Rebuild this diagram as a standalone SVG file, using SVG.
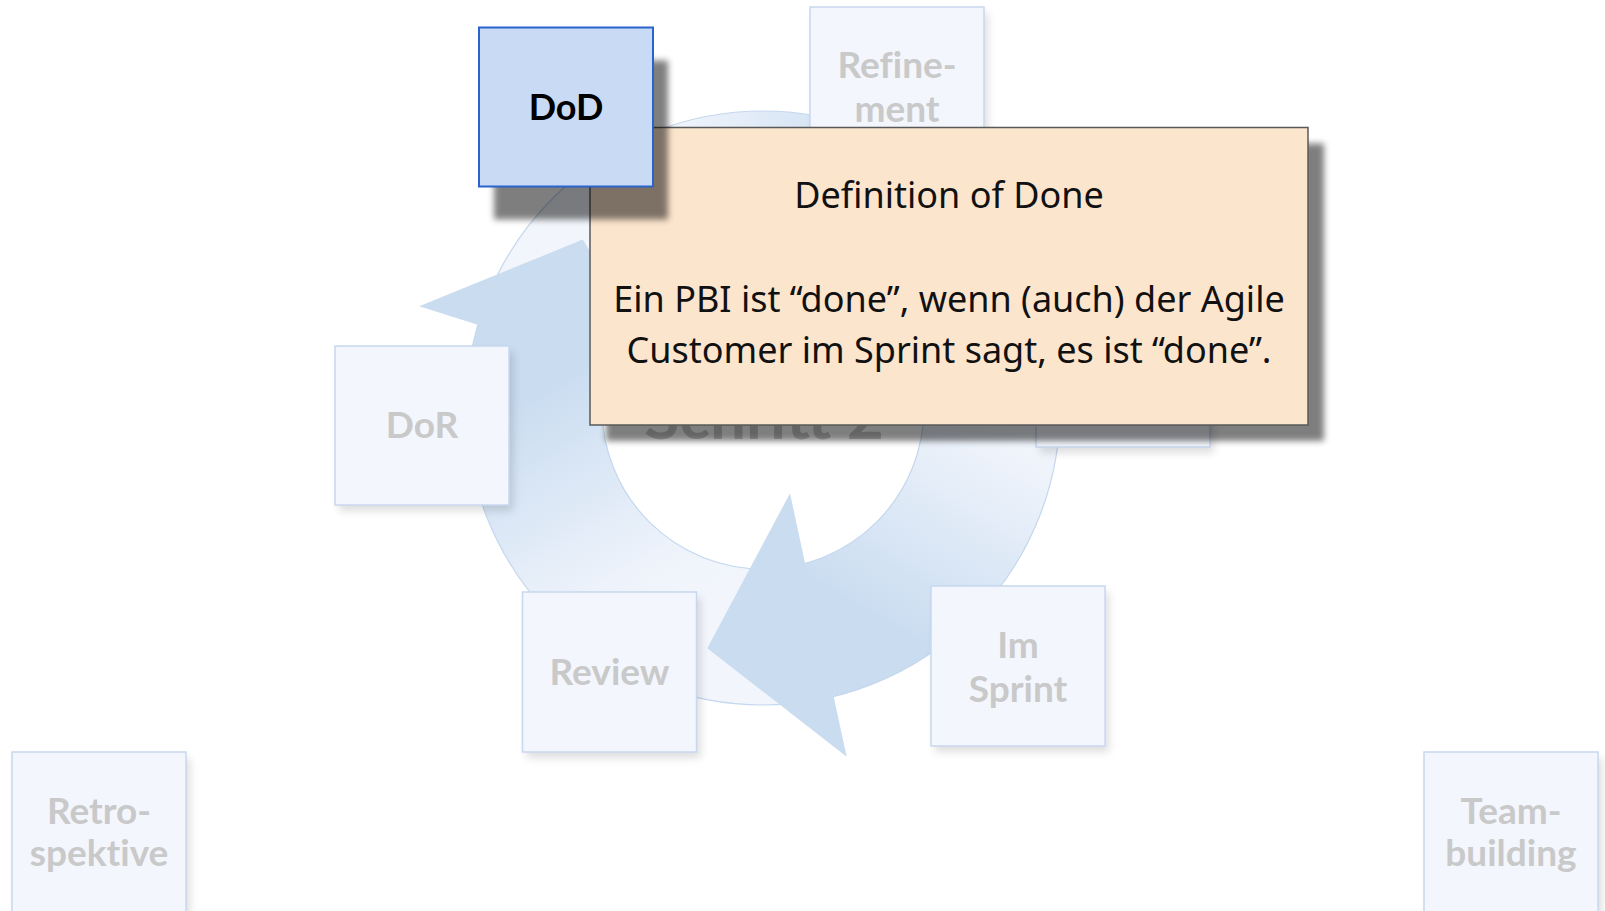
<svg xmlns="http://www.w3.org/2000/svg" xmlns:xlink="http://www.w3.org/1999/xlink" width="1605" height="911" viewBox="0 0 1605 911">
  <style>
    .fbox { fill: #F3F6FD; stroke: #C8D8F0; stroke-width: 1.5; }
    .fsh { fill: #000; opacity: 0.13; }
    .ftxt { font-family: Lato, "Noto Sans", sans-serif; font-weight: 700; font-size: 37px; fill: #C9C9C9; text-anchor: middle; font-variant-ligatures: none; }
    .tip { font-family: "Noto Sans", Lato, sans-serif; font-size: 36px; fill: #111; text-anchor: middle; }
    .ringline { fill: none; stroke: #C4D7EE; stroke-width: 1.2; }
    .head { fill: #C9DCF0; }
  </style>
  <defs>
    <filter id="blur3" x="-20%" y="-20%" width="140%" height="140%">
      <feGaussianBlur stdDeviation="3"/>
    </filter>
    <filter id="blur4" x="-20%" y="-20%" width="140%" height="140%">
      <feGaussianBlur stdDeviation="4"/>
    </filter>
    <linearGradient id="bodyGrad" gradientUnits="userSpaceOnUse" x1="991" y1="388" x2="860" y2="615.5">
      <stop offset="0" stop-color="#F2F6FC"/>
      <stop offset="0.2" stop-color="#EEF3FB"/>
      <stop offset="1" stop-color="#C9DCF0"/>
    </linearGradient>
    <path id="body" d="M882.6,300.3 A161,161 0 0 1 795.1,565.8 L822.2,699.0 A297,297 0 0 0 983.7,209.3 Z" fill="url(#bodyGrad)"/>
    <polygon id="arrowHead" class="head" points="707.3,648.3 790,493.3 805,562.7 834,698.3 846.7,756.7"/>
  </defs>

  <rect width="1605" height="911" fill="#FFFFFF"/>

  <!-- cycle arrows (background) -->
  <g id="connectors">
    <use xlink:href="#body"/>
    <use xlink:href="#body" transform="rotate(120 763 408)"/>
    <use xlink:href="#body" transform="rotate(240 763 408)"/>
    <circle class="ringline" cx="763" cy="408" r="297"/>
    <circle class="ringline" cx="763" cy="408" r="161"/>
    <use xlink:href="#arrowHead"/>
    <use xlink:href="#arrowHead" transform="rotate(120 763 408)"/>
    <use xlink:href="#arrowHead" transform="rotate(240 763 408)"/>
  </g>

  <g id="title">
    <text x="764" y="439" font-family="Lato, 'Noto Sans', sans-serif" font-weight="700" font-size="64" fill="#CBCBCB" text-anchor="middle">Schritt 2</text>
  </g>

  <g id="node-refinement">
    <rect class="fsh" x="814" y="13" width="174" height="160" filter="url(#blur4)"/>
    <rect class="fbox" x="810" y="7" width="174" height="160"/>
    <text class="ftxt" x="897" y="78">Refine-</text>
    <text class="ftxt" x="897" y="122">ment</text>
  </g>

  <g id="node-dor">
    <rect class="fsh" x="339" y="352" width="174" height="159" filter="url(#blur4)"/>
    <rect class="fbox" x="335" y="346" width="174" height="159"/>
    <text class="ftxt" x="422" y="438">DoR</text>
  </g>

  <g id="node-hidden">
    <rect class="fsh" x="1040" y="294" width="174" height="159" filter="url(#blur4)"/>
    <rect class="fbox" x="1036" y="288" width="174" height="159"/>
  </g>

  <g id="node-review">
    <rect class="fsh" x="526.5" y="598" width="174" height="160" filter="url(#blur4)"/>
    <rect class="fbox" x="522.5" y="592" width="174" height="160"/>
    <text class="ftxt" x="609.5" y="685">Review</text>
  </g>

  <g id="node-imsprint">
    <rect class="fsh" x="935" y="592" width="174" height="160" filter="url(#blur4)"/>
    <rect class="fbox" x="931" y="586" width="174" height="160"/>
    <text class="ftxt" x="1018" y="658">Im</text>
    <text class="ftxt" x="1018" y="702">Sprint</text>
  </g>

  <g id="node-retro">
    <rect class="fsh" x="16" y="758" width="174" height="160" filter="url(#blur4)"/>
    <rect class="fbox" x="12" y="752" width="174" height="160"/>
    <text class="ftxt" x="99" y="824">Retro-</text>
    <text class="ftxt" x="99" y="866">spektive</text>
  </g>

  <g id="node-team">
    <rect class="fsh" x="1428" y="758" width="174" height="160" filter="url(#blur4)"/>
    <rect class="fbox" x="1424" y="752" width="174" height="160"/>
    <text class="ftxt" x="1511" y="824">Team-</text>
    <text class="ftxt" x="1511" y="866">building</text>
  </g>

  <g id="tooltip">
    <rect x="606" y="143.5" width="718" height="297.5" fill="#000" opacity="0.5" filter="url(#blur3)"/>
    <rect x="590" y="127.5" width="718" height="297.5" fill="#FCE5CD" stroke="#595959" stroke-width="1.5"/>
    <text class="tip" x="949" y="208" font-size="35.5">Definition of Done</text>
    <text class="tip" x="949" y="312">Ein PBI ist “done”, wenn (auch) der Agile</text>
    <text class="tip" x="949" y="363">Customer im Sprint sagt, es ist “done”.</text>
  </g>

  <g id="node-dod">
    <rect x="494" y="60.5" width="174" height="159" fill="#000" opacity="0.5" filter="url(#blur3)"/>
    <rect x="479" y="27.5" width="174" height="159" fill="#C9DAF5" stroke="#2A63CC" stroke-width="2"/>
    <text x="566" y="120" font-family="Lato, 'Noto Sans', sans-serif" font-weight="700" font-size="36" fill="#000" text-anchor="middle">DoD</text>
  </g>
</svg>
